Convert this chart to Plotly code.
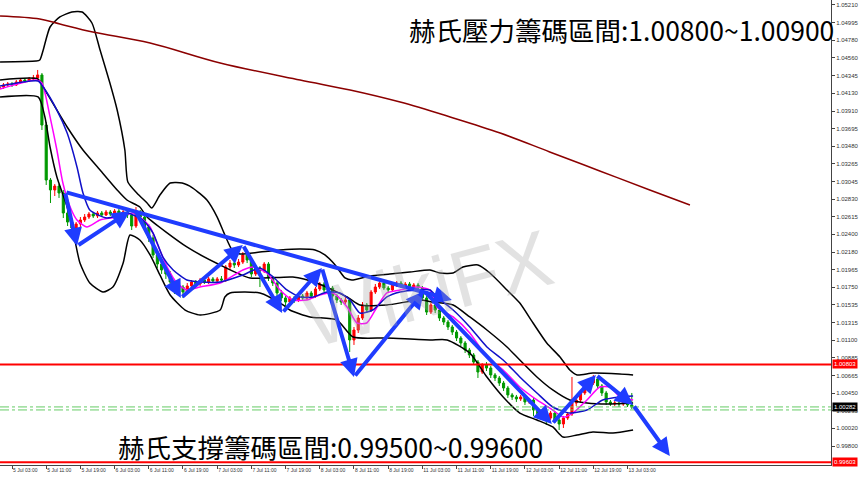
import plotly.graph_objects as go

# ---------------- data ----------------
bar_index = list(range(-3, 146))

open_ = [1.04180, 1.04204, 1.04229, 1.04241, 1.04229, 1.04266, 1.04290, 1.04278, 1.04302, 1.04315,
         1.04352, 1.03738, 1.03064, 1.02942, 1.02990, 1.02905, 1.02660, 1.02549, 1.02476, 1.02525,
         1.02574, 1.02610, 1.02647, 1.02623, 1.02660, 1.02635, 1.02672, 1.02647, 1.02684, 1.02660,
         1.02672, 1.02635, 1.02500, 1.02672, 1.02610, 1.02488, 1.02353, 1.02145, 1.02034, 1.01961,
         1.01912, 1.01814, 1.01716, 1.01752, 1.01691, 1.01765, 1.01814, 1.01789, 1.01838, 1.01814,
         1.01851, 1.01826, 1.01851, 1.01838, 1.01997, 1.02046, 1.02022, 1.02058, 1.02145, 1.02083,
         1.01912, 1.01985, 1.01949, 1.02034, 1.01863, 1.01801, 1.01679, 1.01618, 1.01568, 1.01618,
         1.01593, 1.01642, 1.01618, 1.01679, 1.01642, 1.01728, 1.01789, 1.01716, 1.01740, 1.01642,
         1.01593, 1.01568, 1.01593, 1.01103, 1.01225, 1.01372, 1.01532, 1.01470, 1.01691, 1.01752,
         1.01801, 1.01740, 1.01716, 1.01777, 1.01801, 1.01765, 1.01789, 1.01752, 1.01777, 1.01740,
         1.01618, 1.01445, 1.01532, 1.01470, 1.01372, 1.01323, 1.01262, 1.01200, 1.01127, 1.01066,
         1.00980, 1.00919, 1.00832, 1.00710, 1.00796, 1.00759, 1.00674, 1.00637, 1.00575, 1.00514,
         1.00429, 1.00404, 1.00380, 1.00404, 1.00343, 1.00367, 1.00244, 1.00195, 1.00171, 1.00146,
         1.00207, 1.00122, 1.00073, 1.00146, 1.00195, 1.00330, 1.00367, 1.00453, 1.00514, 1.00575,
         1.00625, 1.00539, 1.00453, 1.00343, 1.00318, 1.00330, 1.00318, 1.00343, 1.00306]

close = [1.04204, 1.04229, 1.04241, 1.04229, 1.04266, 1.04290, 1.04278, 1.04302, 1.04315, 1.04352,
         1.03738, 1.03064, 1.02942, 1.02990, 1.02905, 1.02660, 1.02549, 1.02476, 1.02525, 1.02574,
         1.02610, 1.02647, 1.02623, 1.02660, 1.02635, 1.02672, 1.02647, 1.02684, 1.02660, 1.02672,
         1.02635, 1.02500, 1.02672, 1.02610, 1.02488, 1.02353, 1.02145, 1.02034, 1.01961, 1.01912,
         1.01814, 1.01716, 1.01752, 1.01691, 1.01765, 1.01814, 1.01789, 1.01838, 1.01814, 1.01851,
         1.01826, 1.01851, 1.01838, 1.01997, 1.02046, 1.02022, 1.02058, 1.02145, 1.02083, 1.01912,
         1.01985, 1.01949, 1.02034, 1.01863, 1.01801, 1.01679, 1.01618, 1.01568, 1.01618, 1.01593,
         1.01642, 1.01618, 1.01679, 1.01642, 1.01728, 1.01789, 1.01716, 1.01740, 1.01642, 1.01593,
         1.01568, 1.01593, 1.01103, 1.01225, 1.01372, 1.01532, 1.01470, 1.01691, 1.01752, 1.01801,
         1.01740, 1.01716, 1.01777, 1.01801, 1.01765, 1.01789, 1.01752, 1.01777, 1.01740, 1.01618,
         1.01445, 1.01532, 1.01470, 1.01372, 1.01323, 1.01262, 1.01200, 1.01127, 1.01066, 1.00980,
         1.00919, 1.00832, 1.00710, 1.00796, 1.00759, 1.00674, 1.00637, 1.00575, 1.00514, 1.00429,
         1.00404, 1.00380, 1.00404, 1.00343, 1.00367, 1.00244, 1.00195, 1.00171, 1.00146, 1.00207,
         1.00122, 1.00073, 1.00146, 1.00195, 1.00330, 1.00367, 1.00453, 1.00514, 1.00575, 1.00625,
         1.00539, 1.00453, 1.00343, 1.00318, 1.00330, 1.00318, 1.00343, 1.00306, 1.00282]

high = [1.04229, 1.04253, 1.04266, 1.04266, 1.04290, 1.04302, 1.04315, 1.04327, 1.04352, 1.04413,
        1.04376, 1.03775, 1.03089, 1.03015, 1.03015, 1.02942, 1.02696, 1.02598, 1.02549, 1.02610,
        1.02647, 1.02672, 1.02672, 1.02684, 1.02684, 1.02696, 1.02696, 1.02709, 1.02709, 1.02696,
        1.02696, 1.02660, 1.02733, 1.02696, 1.02647, 1.02525, 1.02390, 1.02181, 1.02083, 1.01997,
        1.01949, 1.01851, 1.01789, 1.01777, 1.01801, 1.01838, 1.01838, 1.01863, 1.01863, 1.01875,
        1.01875, 1.01875, 1.01887, 1.02022, 1.02083, 1.02071, 1.02096, 1.02181, 1.02169, 1.02108,
        1.02022, 1.02009, 1.02058, 1.02058, 1.01887, 1.01826, 1.01716, 1.01642, 1.01642, 1.01642,
        1.01667, 1.01667, 1.01704, 1.01704, 1.01752, 1.01814, 1.01814, 1.01765, 1.01765, 1.01667,
        1.01618, 1.01630, 1.01618, 1.01262, 1.01409, 1.01568, 1.01556, 1.01716, 1.01789, 1.01838,
        1.01826, 1.01765, 1.01801, 1.01826, 1.01826, 1.01814, 1.01814, 1.01801, 1.01801, 1.01765,
        1.01642, 1.01556, 1.01556, 1.01495, 1.01396, 1.01348, 1.01287, 1.01225, 1.01151, 1.01090,
        1.01005, 1.00943, 1.00857, 1.00820, 1.00832, 1.00784, 1.00698, 1.00661, 1.00600, 1.00539,
        1.00453, 1.00429, 1.00429, 1.00429, 1.00392, 1.00392, 1.00269, 1.00232, 1.00220, 1.00232,
        1.00232, 1.00146, 1.00171, 1.00220, 1.00649, 1.00404, 1.00490, 1.00539, 1.00612, 1.00674,
        1.00649, 1.00563, 1.00478, 1.00367, 1.00355, 1.00355, 1.00367, 1.00367, 1.00453]

low = [1.04155, 1.04180, 1.04204, 1.04204, 1.04217, 1.04241, 1.04253, 1.04266, 1.04278, 1.04290,
       1.03677, 1.03003, 1.02782, 1.02868, 1.02844, 1.02598, 1.02500, 1.02390, 1.02439, 1.02488,
       1.02549, 1.02586, 1.02598, 1.02598, 1.02610, 1.02623, 1.02623, 1.02635, 1.02635, 1.02635,
       1.02598, 1.02451, 1.02476, 1.02562, 1.02451, 1.02304, 1.02108, 1.01985, 1.01912, 1.01851,
       1.01765, 1.01667, 1.01679, 1.01618, 1.01667, 1.01740, 1.01752, 1.01765, 1.01789, 1.01789,
       1.01801, 1.01801, 1.01801, 1.01814, 1.01961, 1.01985, 1.01997, 1.02034, 1.02046, 1.01875,
       1.01887, 1.01752, 1.01924, 1.01826, 1.01765, 1.01642, 1.01581, 1.01519, 1.01544, 1.01556,
       1.01568, 1.01593, 1.01593, 1.01606, 1.01618, 1.01704, 1.01691, 1.01691, 1.01606, 1.01556,
       1.01532, 1.01544, 1.00955, 1.01042, 1.01188, 1.01348, 1.01433, 1.01445, 1.01667, 1.01728,
       1.01716, 1.01691, 1.01691, 1.01752, 1.01740, 1.01740, 1.01728, 1.01728, 1.01716, 1.01581,
       1.01409, 1.01421, 1.01433, 1.01336, 1.01287, 1.01225, 1.01164, 1.01090, 1.01029, 1.00943,
       1.00882, 1.00796, 1.00637, 1.00686, 1.00722, 1.00637, 1.00600, 1.00539, 1.00478, 1.00392,
       1.00367, 1.00343, 1.00355, 1.00306, 1.00318, 1.00171, 1.00158, 1.00122, 1.00061, 1.00122,
       1.00085, 0.99999, 1.00024, 1.00122, 1.00171, 1.00294, 1.00343, 1.00429, 1.00490, 1.00551,
       1.00502, 1.00416, 1.00306, 1.00294, 1.00294, 1.00281, 1.00294, 1.00281, 1.00257]

tick_index = [0, 8, 16, 24, 32, 40, 48, 56, 64, 72, 80, 88, 96, 104, 112, 120, 128, 136, 144]
tick_text = ["5 Jul 03:00", "5 Jul 11:00", "5 Jul 19:00", "6 Jul 03:00", "6 Jul 11:00", "6 Jul 19:00",
             "7 Jul 03:00", "7 Jul 11:00", "7 Jul 19:00", "8 Jul 03:00", "8 Jul 11:00", "8 Jul 19:00",
             "11 Jul 03:00", "11 Jul 11:00", "11 Jul 19:00", "12 Jul 03:00", "12 Jul 11:00",
             "12 Jul 19:00", "13 Jul 03:00"]

price_ticks = [1.05210, 1.04995, 1.04780, 1.04560, 1.04345, 1.04130, 1.03910, 1.03695, 1.03480,
               1.03265, 1.03045, 1.02830, 1.02615, 1.02400, 1.02180, 1.01965, 1.01750, 1.01535,
               1.01315, 1.01100, 1.00885, 1.00665, 1.00450, 1.00235, 1.00020, 0.99800]

# Bollinger band lines
bb_upper_x = [-2.8, 5.6, 6.5, 7.3, 8.9, 11.2, 14.0, 16.4, 18.7, 20.6, 22.9, 24.6, 26.4, 27.1, 29.2,
              31.6, 32.7, 34.6, 37.0, 39.8, 42.3, 45.6, 48.0, 49.8, 51.5, 53.3, 58.0, 62.7, 67.4,
              70.9, 73.2, 75.6, 77.9, 79.5, 83.7, 88.4, 93.1, 97.8, 100.1, 103.2, 105.5, 109.0,
              111.8, 115.8, 118.8, 121.9, 125.1, 128.2, 130.5, 132.2, 135.9, 142.2, 145.3]
bb_upper_y = [1.04511, 1.04523, 1.04535, 1.04658, 1.04940, 1.05063, 1.05124, 1.05124, 1.04989,
              1.04658, 1.04253, 1.03922, 1.03432, 1.03039, 1.02905, 1.02782, 1.02721, 1.02880,
              1.03027, 1.03027, 1.02966, 1.02819, 1.02610, 1.02390, 1.02206, 1.02157, 1.02181,
              1.02206, 1.02218, 1.02206, 1.02145, 1.02022, 1.01863, 1.01838, 1.01887, 1.01912,
              1.01936, 1.01961, 1.01924, 1.01924, 1.01997, 1.02022, 1.01924, 1.01716, 1.01556,
              1.01311, 1.01066, 1.00894, 1.00735, 1.00674, 1.00698, 1.00686, 1.00674]

bb_mid_x = [-2.8, 6.1, 7.7, 12.9, 16.6, 20.6, 24.6, 26.9, 29.9, 31.6, 40.9, 48.7, 55.7, 65.7, 71.3,
            78.4, 81.4, 87.7, 95.4, 98.5, 103.2, 107.1, 111.1, 115.8, 118.8, 122.8, 126.5, 130.5,
            134.5, 139.2, 145.3]
bb_mid_y = [1.04290, 1.04302, 1.04168, 1.03714, 1.03432, 1.03187, 1.02942, 1.02819, 1.02733,
            1.02610, 1.02243, 1.02022, 1.01863, 1.01875, 1.01801, 1.01630, 1.01532, 1.01532,
            1.01593, 1.01568, 1.01532, 1.01385, 1.01225, 1.01017, 1.00857, 1.00649, 1.00490,
            1.00367, 1.00330, 1.00318, 1.00330]

bb_lower_x = [-2.8, 6.1, 7.7, 8.9, 10.5, 12.9, 14.7, 15.9, 18.2, 21.3, 23.6, 26.0, 27.6, 29.9, 32.3,
              34.6, 37.0, 40.5, 44.0, 48.7, 49.8, 51.0, 58.0, 63.4, 65.0, 69.7, 76.0, 79.8, 87.7,
              97.8, 101.8, 107.1, 111.1, 114.9, 118.8, 122.8, 126.5, 128.9, 132.2, 135.9, 140.6,
              145.3]
bb_lower_y = [1.04082, 1.04082, 1.03837, 1.03469, 1.03101, 1.02733, 1.02329, 1.02046, 1.01801,
              1.01691, 1.01752, 1.02046, 1.02390, 1.02329, 1.02145, 1.01900, 1.01654, 1.01470,
              1.01409, 1.01470, 1.01630, 1.01679, 1.01679, 1.01532, 1.01470, 1.01385, 1.01348,
              1.01139, 1.01127, 1.01103, 1.01103, 1.00943, 1.00649, 1.00404, 1.00207, 1.00122,
              1.00036, 0.99913, 0.99938, 0.99975, 0.99962, 0.99999]

ma_blue_x = [-2.8, 6.1, 7.3, 10.5, 12.9, 15.2, 16.6, 18.2, 22.2, 26.9, 30.6, 33.0, 35.3, 37.7, 40.9,
             44.0, 48.7, 54.0, 58.0, 61.1, 64.3, 67.4, 70.4, 73.7, 76.7, 79.1, 81.4, 84.4, 87.7,
             90.8, 94.7, 97.8, 99.4, 103.2, 107.1, 111.1, 114.9, 118.8, 122.8, 126.5, 130.5, 134.5,
             138.2, 142.2, 145.3]
ma_blue_y = [1.04217, 1.04278, 1.04204, 1.03922, 1.03640, 1.03224, 1.02905, 1.02696, 1.02598,
             1.02660, 1.02574, 1.02414, 1.02120, 1.01961, 1.01838, 1.01814, 1.01814, 1.01900,
             1.01985, 1.01875, 1.01716, 1.01630, 1.01630, 1.01691, 1.01679, 1.01593, 1.01433,
             1.01470, 1.01630, 1.01691, 1.01716, 1.01716, 1.01630, 1.01470, 1.01262, 1.01017,
             1.00857, 1.00649, 1.00453, 1.00281, 1.00207, 1.00244, 1.00367, 1.00404, 1.00416]

ma_pink_x = [-2.8, 5.6, 7.0, 8.9, 10.5, 11.9, 13.6, 15.2, 17.5, 20.6, 24.6, 28.3, 29.9, 32.3, 33.9,
             36.3, 38.6, 40.9, 44.0, 48.7, 54.0, 56.4, 59.6, 62.7, 65.7, 69.0, 72.0, 75.1, 78.4,
             80.7, 83.0, 85.4, 87.7, 90.8, 94.7, 97.8, 99.4, 103.2, 107.1, 111.1, 114.9, 118.8,
             122.8, 126.5, 128.9, 131.2, 134.5, 137.5, 139.9, 142.2, 145.3]
ma_pink_y = [1.04180, 1.04290, 1.04253, 1.03837, 1.03432, 1.03027, 1.02733, 1.02574, 1.02488,
             1.02574, 1.02610, 1.02660, 1.02610, 1.02488, 1.02292, 1.01997, 1.01801, 1.01716,
             1.01752, 1.01801, 1.01961, 1.01997, 1.01924, 1.01716, 1.01593, 1.01593, 1.01654,
             1.01679, 1.01507, 1.01311, 1.01311, 1.01507, 1.01679, 1.01716, 1.01752, 1.01716,
             1.01507, 1.01385, 1.01188, 1.00894, 1.00735, 1.00526, 1.00367, 1.00244, 1.00158,
             1.00207, 1.00367, 1.00526, 1.00526, 1.00404, 1.00367]

ma_long_x = [-2.8, 6.5, 11.2, 18.9, 32.3, 48.7, 67.4, 79.1, 90.8, 102.5, 114.2, 125.8, 137.5, 149.2, 158.6]
ma_long_y = [1.05075, 1.05038, 1.04977, 1.04879, 1.04744, 1.04499, 1.04290, 1.04168, 1.04020,
             1.03837, 1.03640, 1.03408, 1.03175, 1.02942, 1.02757]

# hand-drawn blue arrows: tail -> tip
arrow_tail_x = [12.4, 12.4, 15.2, 28.8, 39.5, 54.0, 63.2, 72.5, 80.0, 96.4, 126.3, 136.6, 145.3]
arrow_tail_y = [1.02917, 1.02917, 1.02255, 1.02696, 1.01618, 1.02267, 1.01433, 1.01985, 1.00649,
                1.01704, 1.00073, 1.00674, 1.00306]
arrow_tip_x = [102.9, 15.2, 27.6, 39.5, 54.0, 63.2, 72.5, 80.0, 96.4, 126.3, 136.6, 145.3, 153.9]
arrow_tip_y = [1.01593, 1.02255, 1.02684, 1.01618, 1.02267, 1.01433, 1.01985, 1.00649, 1.01704,
               1.00073, 1.00674, 1.00306, 0.99680]

resistance_level = 1.00803
support_level = 0.99603
green_levels = [1.00282, 1.00245]
bid_price = 1.00282

title_top = "赫氏壓力籌碼區間:1.00800~1.00900"
title_bottom = "赫氏支撐籌碼區間:0.99500~0.99600"

# ---------------- figure ----------------
fig = go.Figure()

for xs, ys in [(bb_upper_x, bb_upper_y), (bb_mid_x, bb_mid_y), (bb_lower_x, bb_lower_y)]:
    fig.add_trace(go.Scatter(x=xs, y=ys, mode="lines",
                             line=dict(color="black", width=1.5, shape="spline", smoothing=0.6),
                             hoverinfo="skip", showlegend=False))

fig.add_trace(go.Scatter(x=ma_long_x, y=ma_long_y, mode="lines",
                         line=dict(color="#8b0000", width=1.5, shape="spline"), showlegend=False))
fig.add_trace(go.Scatter(x=ma_pink_x, y=ma_pink_y, mode="lines",
                         line=dict(color="#ff00ff", width=1.5, shape="spline", smoothing=0.6), showlegend=False))
fig.add_trace(go.Scatter(x=ma_blue_x, y=ma_blue_y, mode="lines",
                         line=dict(color="#1010c8", width=1.5, shape="spline", smoothing=0.6), showlegend=False))

fig.add_trace(go.Candlestick(
    x=bar_index, open=open_, high=high, low=low, close=close,
    increasing=dict(line=dict(color="#ff0000", width=1), fillcolor="#ff0000"),
    decreasing=dict(line=dict(color="#009900", width=1), fillcolor="#009900"),
    whiskerwidth=0, showlegend=False))

shapes = []
for lvl in green_levels:
    shapes.append(dict(type="line", xref="paper", x0=0, x1=1, yref="y", y0=lvl, y1=lvl,
                       line=dict(color="#66cc66", width=1, dash="dashdot")))
for lvl in [resistance_level, support_level]:
    shapes.append(dict(type="line", xref="paper", x0=0, x1=1, yref="y", y0=lvl, y1=lvl,
                       line=dict(color="#ff0000", width=2)))

annotations = []
for tx, ty, hx, hy in zip(arrow_tail_x, arrow_tail_y, arrow_tip_x, arrow_tip_y):
    annotations.append(dict(x=hx, y=hy, ax=tx, ay=ty, xref="x", yref="y", axref="x", ayref="y",
                            showarrow=True, arrowhead=2, arrowsize=0.9, arrowwidth=4,
                            arrowcolor="#1f3cff", text=""))

annotations.append(dict(text="WikiFX", xref="paper", yref="paper", x=0.515, y=0.38, showarrow=False,
                        textangle=-15,
                        font=dict(family="Arial Black, Arial", size=80, color="rgba(165,165,165,0.32)")))

annotations.append(dict(text=title_top, xref="paper", yref="paper", x=0.490, y=0.936,
                        xanchor="left", yanchor="middle", showarrow=False,
                        font=dict(family="Noto Sans CJK TC", size=26.5, color="black")))
annotations.append(dict(text=title_bottom, xref="paper", yref="paper", x=0.139, y=0.040,
                        xanchor="left", yanchor="middle", showarrow=False,
                        font=dict(family="Noto Sans CJK TC", size=26.5, color="black")))

for lvl, bg in [(resistance_level, "#ff0000"), (support_level, "#ff0000"), (bid_price, "#000000")]:
    annotations.append(dict(text=f"{lvl:.5f}", xref="paper", yref="y", x=1.0, y=lvl,
                            xanchor="left", yanchor="middle", showarrow=False, bgcolor=bg,
                            borderpad=1, xshift=1,
                            font=dict(family="Arial", size=6, color="white")))

fig.update_layout(
    width=863, height=477,
    margin=dict(l=0, r=32, t=0, b=12, autoexpand=False),
    paper_bgcolor="white", plot_bgcolor="white",
    shapes=shapes, annotations=annotations,
    showlegend=False,
    xaxis=dict(range=[-2.81, 191.6], tickvals=tick_index, ticktext=tick_text, tickangle=0,
               ticklabelposition="outside right", ticklabeloverflow="allow", automargin=False,
               ticks="outside", ticklen=3, tickcolor="#444",
               tickfont=dict(family="Arial", size=5, color="#333"),
               showgrid=False, zeroline=False, showline=True, linecolor="#444", linewidth=1,
               mirror=True, rangeslider=dict(visible=False)),
    yaxis=dict(range=[0.99570, 1.05271], side="right", tickvals=price_ticks,
               ticktext=[f"{v:.5f}" for v in price_ticks], ticks="outside", ticklen=3,
               ticklabeloverflow="allow", automargin=False,
               tickcolor="#444", tickfont=dict(family="Arial", size=6, color="#333"),
               showgrid=False, zeroline=False, showline=True, linecolor="#444", linewidth=1),
)

fig.write_html("out.html", config={"displayModeBar": False},
               post_script="document.body.style.margin='0';document.body.style.overflow='hidden';")
